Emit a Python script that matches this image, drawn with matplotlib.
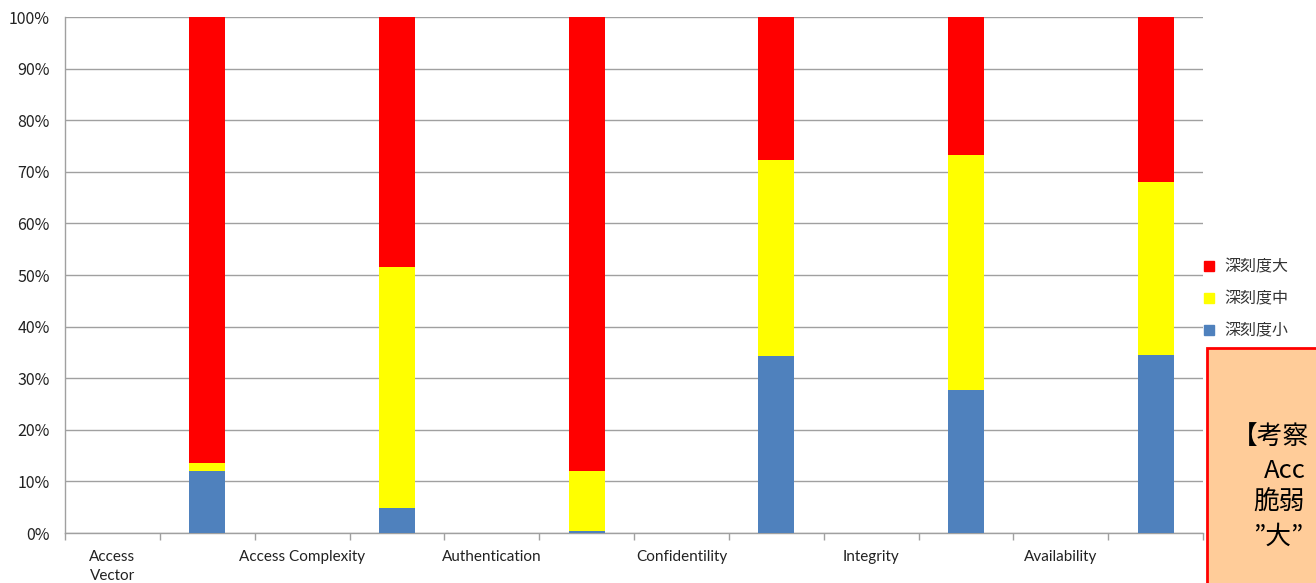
import numpy as np
import matplotlib
matplotlib.use("Agg")
import matplotlib.pyplot as plt
from matplotlib.patches import Rectangle
from matplotlib.lines import Line2D

plt.rcParams['font.family'] = ['Noto Sans CJK JP', 'DejaVu Sans']

# data (percent)
categories = ["Access\nVector", "Access Complexity", "Authentication",
              "Confidentility", "Integrity", "Availability"]
small = [12.0, 4.8, 0.3, 34.3, 27.7, 34.5]
mid = [1.6, 46.8, 11.7, 38.0, 45.6, 33.5]
large = [86.4, 48.4, 88.0, 27.7, 26.7, 32.0]
series_names = ["深刻度大", "深刻度中", "深刻度小"]
yticks = [0, 10, 20, 30, 40, 50, 60, 70, 80, 90, 100]
# the comment box is cut by the right edge, only this part shows
box_text = ["【考察", "Acc", "脆弱", "”大”"]

c_large = "#FF0000"
c_mid = "#FFFF00"
c_small = "#4F81BD"
grid_c = "#A0A0A0"

W, H = 1316, 583
fig = plt.figure(figsize=(W / 100, H / 100), dpi=100)
ax = fig.add_axes([65 / W, (H - 533) / H, (1203 - 65) / W, 516 / H])

# every category uses two slots: label slot then bar slot
n = len(categories)
label_pos = np.arange(n) * 2 + 0.5
bar_pos = np.arange(n) * 2 + 1.5
bw = 0.38

small_a = np.array(small)
mid_a = np.array(mid)
large_a = np.array(large)
ax.bar(bar_pos, small_a, bw, color=c_small, zorder=3)
ax.bar(bar_pos, mid_a, bw, bottom=small_a, color=c_mid, zorder=3)
ax.bar(bar_pos, large_a, bw, bottom=small_a + mid_a, color=c_large, zorder=3)

ax.set_xlim(0, 2 * n)
ax.set_ylim(0, 100)
ax.set_yticks(yticks)
ax.set_yticklabels([f"{v}%" for v in yticks], fontsize=11.5, color="#222222")
ax.tick_params(axis='y', length=0, pad=11)
ax.yaxis.grid(True, color=grid_c, lw=1, zorder=0)

ax.set_xticks(label_pos)
ax.set_xticklabels(categories, fontsize=11, family=['Lato', 'DejaVu Sans'],
                   color="#222222", linespacing=1.45, va='top')
ax.tick_params(axis='x', which='major', length=0, pad=12.5)
ax.set_xticks(np.arange(0, 2 * n + 1), minor=True)
ax.tick_params(axis='x', which='minor', length=5, color=grid_c, width=1)

for s in ['top', 'right']:
    ax.spines[s].set_visible(False)
for s in ['left', 'bottom']:
    ax.spines[s].set_color(grid_c)
    ax.spines[s].set_linewidth(1)

handles = [Line2D([], [], ls='', marker='s', markersize=6.5, color=c)
           for c in (c_large, c_mid, c_small)]
fig.legend(handles, series_names, loc='upper left',
           bbox_to_anchor=(1188 / W, 1 - 244 / H), frameon=False,
           handlelength=0.8, handletextpad=0.55,
           labelspacing=0.95, prop={'size': 11.5}, labelcolor="#333333")

# comment box at the lower right, cut off by the figure edge
box = Rectangle((1207 / W, -0.05), 0.2, (H - 348) / H + 0.05,
                transform=fig.transFigure, facecolor="#FFCC99",
                edgecolor="#FF0000", lw=2)
fig.patches.append(box)
box_x = [1232, 1264, 1253, 1253]
box_y = [437, 471, 503, 537]
for txt, x, y in zip(box_text, box_x, box_y):
    fig.text(x / W, 1 - y / H, txt, fontsize=18.5, ha='left', va='center',
             color="#000000", family=['Noto Sans CJK JP', 'DejaVu Sans'])

fig.savefig("out.png", dpi=100)
